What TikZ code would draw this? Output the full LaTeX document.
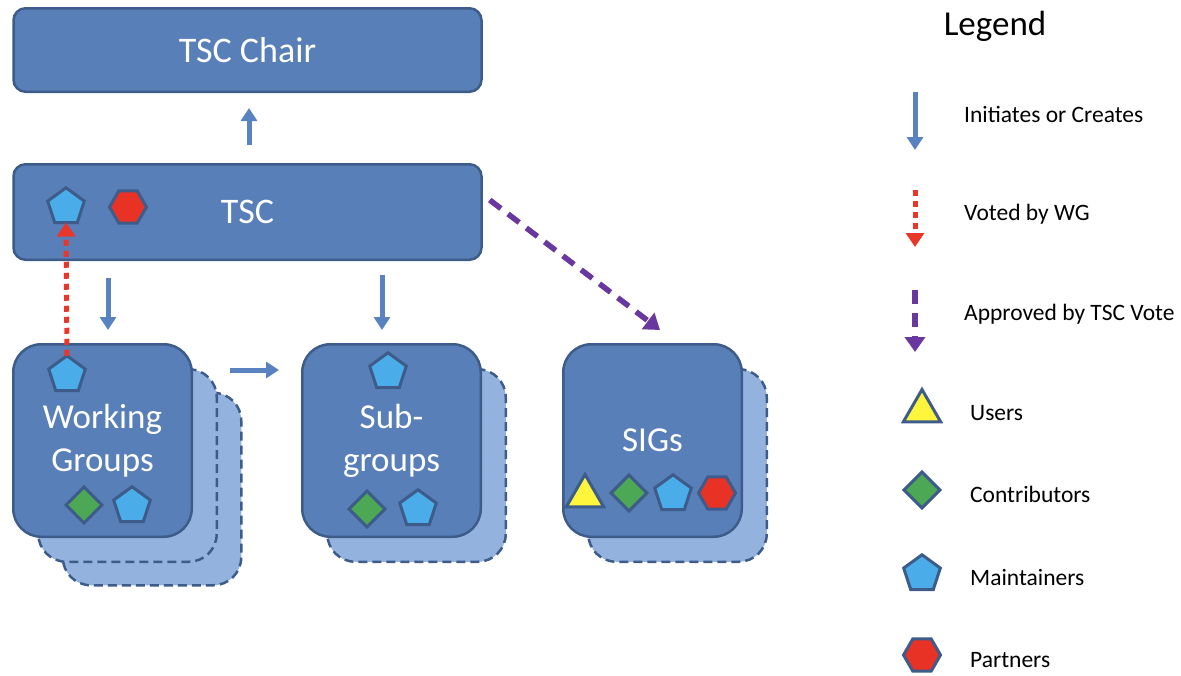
\documentclass[tikz,border=0pt]{standalone}
\usepackage{fontspec}
\setmainfont{Carlito}
\usetikzlibrary{arrows.meta,shapes.geometric}
\definecolor{boxblue}{RGB}{88,127,184}
\definecolor{boxline}{RGB}{62,92,138}
\definecolor{backblue}{RGB}{148,178,222}
\definecolor{arrowblue}{RGB}{88,130,192}
\definecolor{votered}{RGB}{232,55,40}
\definecolor{approvepurple}{RGB}{104,55,160}
\definecolor{userfill}{RGB}{255,245,60}
\definecolor{contribfill}{RGB}{76,168,84}
\definecolor{maintfill}{RGB}{74,172,232}
\definecolor{partnerfill}{RGB}{232,50,38}
\tikzset{
	level/.style={
		% The shape:
		rectangle,rounded corners=12pt,
		% The size:
		minimum width=468pt,
		% The border:
		line width=2.5pt,
		draw=boxline,
		% The filling and the text:
		fill=boxblue,text=white,
		font=\fontsize{36}{43}\selectfont,
	}}
\tikzset{
	group/.style={
		% The shape:
		rectangle,rounded corners=28pt,
		% The size:
		minimum width=178.5pt,minimum height=192.5pt,
		% The border:
		line width=2.5pt,
		draw=boxline,
		% The filling and the text:
		fill=boxblue,text=white,align=center,
		font=\fontsize{35}{43}\selectfont,
	},
	groupback/.style={
		group,
		fill=backblue,
		dash pattern=on 9pt off 5pt,
	}}
\tikzset{
	member/.style={
		% The border:
		line width=3pt,draw=boxline,
		inner sep=0pt,outer sep=0pt,
	},
	user/.style={member,regular polygon,regular polygon sides=3,minimum size=43pt,fill=userfill},
	contributor/.style={member,diamond,minimum size=36pt,fill=contribfill},
	maintainer/.style={member,regular polygon,regular polygon sides=5,minimum size=38.5pt,fill=maintfill},
	partner/.style={member,regular polygon,regular polygon sides=6,minimum size=37pt,fill=partnerfill},
	legendtext/.style={anchor=base west,inner sep=0pt,font=\fontsize{23.5}{28}\selectfont},
}
\tikzset{
	initiates/.style={-{Triangle[width=16pt,length=13pt]},line width=5pt,draw=arrowblue},
	voted/.style={-{Triangle[width=18pt,length=14pt]},line width=5pt,draw=votered,dash pattern=on 6pt off 5pt},
	approved/.style={-{Triangle[width=20pt,length=15pt]},line width=5.5pt,draw=approvepurple,dash pattern=on 14pt off 9pt},
}

\begin{document}
\begin{tikzpicture}[x=1pt,y=-1pt]
	\useasboundingbox (0,0) rectangle (1181,675);
	% the two levels on top
	\node[level,minimum height=83.5pt] (chair) at (247.5,50) {TSC Chair};
	\node[level,minimum height=95.5pt] (tsc) at (247.5,212) {TSC};
	\node[maintainer] (tscm) at (66,207) {};
	\node[partner] (tscp) at (128,207) {};
	% the groups, with their copies behind
	\node[groupback] (wgback2) at (152,489) {};
	\node[groupback] (wgback1) at (127.5,465.5) {};
	\node[group] (wg) at (102.5,440.5) {Working\\Groups};
	\node[groupback] (subback) at (416.5,465.5) {};
	\node[group] (sub) at (391.5,440.5) {Sub-\\groups};
	\node[groupback] (sigsback) at (677.5,465.5) {};
	\node[group] (sigs) at (652.5,440.5) {SIGs};
	% the members in the groups
	\node[maintainer] (wgm) at (67,375) {};
	\node[contributor] (wgc) at (84,505) {};
	\node[maintainer] (wgm2) at (132,506) {};
	\node[maintainer] (subm) at (388,372) {};
	\node[contributor] (subc) at (367,509) {};
	\node[maintainer] (subm2) at (418,509) {};
	\node[user] (sigsu) at (585,496) {};
	\node[contributor] (sigsc) at (629,493) {};
	\node[maintainer] (sigsm) at (673,494) {};
	\node[partner] (sigsp) at (717,493) {};
	% connectors
	\draw[initiates,shorten <=18pt,shorten >=15pt] ([xshift=1.5pt]tsc.north) -- ([xshift=1.5pt]chair.south);
	\draw[initiates,shorten <=17pt,shorten >=13pt] ([xshift=5.5pt]tsc.south -| wg.north) -- ([xshift=5.5pt]wg.north);
	\draw[initiates,shorten <=14pt,shorten >=13pt] ([xshift=-9.5pt]tsc.south -| sub.north) -- ([xshift=-9.5pt]sub.north);
	\draw[initiates,shorten <=37pt,shorten >=22pt] ([yshift=70.5pt]wg.east) -- ([yshift=70.5pt]sub.west);
	\draw[voted] (wgm.north) -- (tscm.south);
	\draw[approved] ([shift={(7pt,12pt)}]tsc.east) -- ([shift={(7.5pt,13pt)}]sigs.north);
	% legend
	\node[font=\fontsize{35}{42}\selectfont,anchor=base] (legend) at (995,35) {Legend};
	\coordinate (li1) at (915,92);
	\coordinate (li2) at (915,150);
	\draw[initiates] (li1) -- (li2);
	\node[legendtext] (linit) at (964,122) {Initiates or Creates};
	\coordinate (lv1) at (915,190);
	\coordinate (lv2) at (915,247);
	\draw[voted] (lv1) -- (lv2);
	\node[legendtext] (lvote) at (964,220) {Voted by WG};
	\coordinate (la1) at (915,290);
	\coordinate (la2) at (915,352);
	\draw[approved] (la1) -- (la2);
	\node[legendtext] (lappr) at (964,320) {Approved by TSC Vote};
	\node[user] (lu) at (922,411) {};
	\node[legendtext] (luser) at (970,420) {Users};
	\node[contributor] (lc) at (922,490) {};
	\node[legendtext] (lcontrib) at (970,502) {Contributors};
	\node[maintainer] (lm) at (922,574) {};
	\node[legendtext] (lmaint) at (970,585) {Maintainers};
	\node[partner] (lp) at (922,655) {};
	\node[legendtext] (lpart) at (970,667) {Partners};
\end{tikzpicture}
\end{document}
